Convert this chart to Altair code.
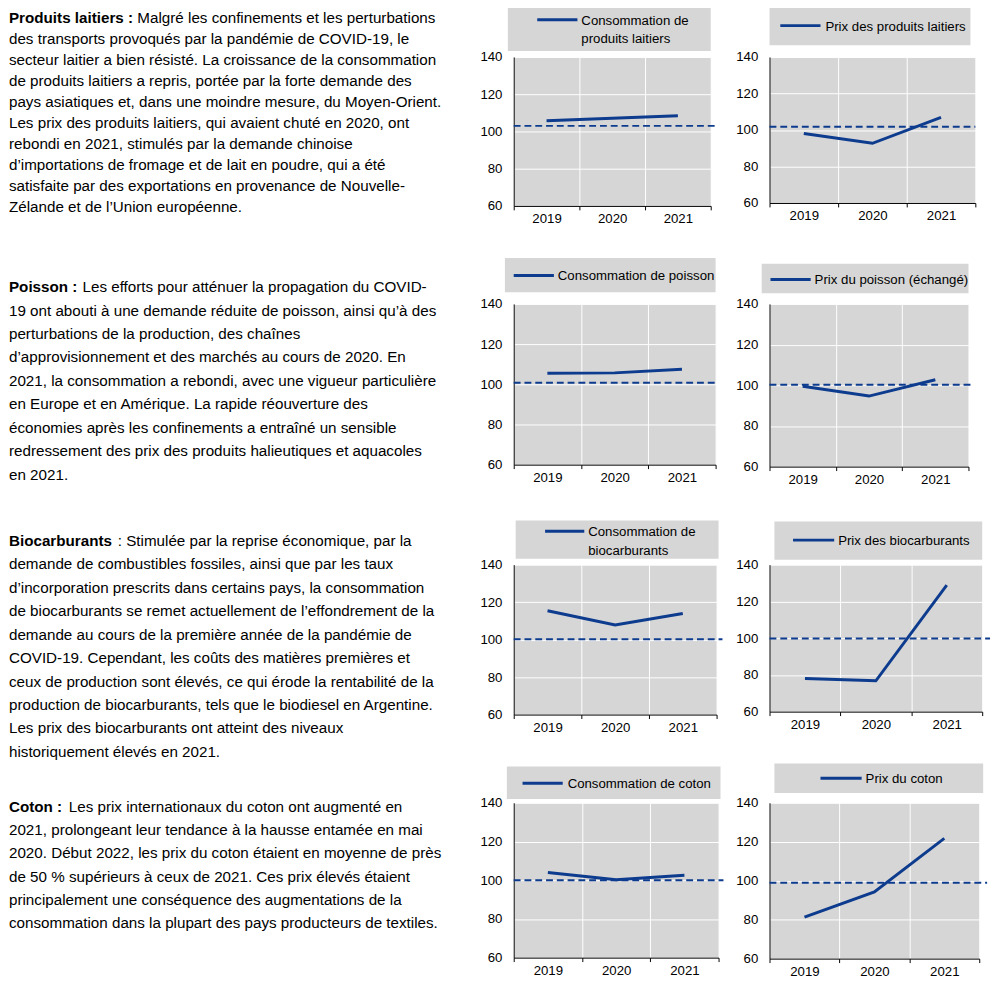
import altair as alt
import pandas as pd

# ---------------- data ----------------
years = ["2019", "2020", "2021"]
y_ticks = [60, 80, 100, 120, 140]

series_names = [
    "Consommation de\nproduits laitiers",
    "Prix des produits laitiers",
    "Consommation de poisson",
    "Prix du poisson (échangé)",
    "Consommation de\nbiocarburants",
    "Prix des biocarburants",
    "Consommation de coton",
    "Prix du coton",
]

dairy_consumption = [105.7, 107.1, 108.4]
dairy_price = [98.1, 92.7, 106.9]
fish_consumption = [105.5, 105.7, 107.5]
fish_price = [99.5, 94.7, 102.7]
biofuel_consumption = [115.4, 107.8, 113.9]
biofuel_price = [78.0, 76.8, 128.9]
cotton_consumption = [104.0, 100.3, 102.6]
cotton_price = [81.3, 94.3, 121.7]

series_values = [
    dairy_consumption, dairy_price,
    fish_consumption, fish_price,
    biofuel_consumption, biofuel_price,
    cotton_consumption, cotton_price,
]

reference_levels = [103.0, 101.8, 100.8, 100.3, 100.2, 99.8, 100.0, 99.0]

lead_words = ["Produits laitiers  :", "Poisson  :", "Biocarburants", "Coton  :"]
first_line_rest = [
    "Malgré les confinements et les perturbations",
    "Les efforts pour atténuer la propagation du COVID-",
    ": Stimulée par la reprise économique, par la",
    "Les prix internationaux du coton ont augmenté en",
]
paragraph_lines = [
    [
        "des transports provoqués par la pandémie de COVID-19, le",
        "secteur laitier a bien résisté. La croissance de la consommation",
        "de produits laitiers a repris, portée par la forte demande des",
        "pays asiatiques et, dans une moindre mesure, du Moyen-Orient.",
        "Les prix des produits laitiers, qui avaient chuté en 2020, ont",
        "rebondi en 2021, stimulés par la demande chinoise",
        "d’importations de fromage et de lait en poudre, qui a été",
        "satisfaite par des exportations en provenance de Nouvelle-",
        "Zélande et de l’Union européenne.",
    ],
    [
        "19 ont abouti à une demande réduite de poisson, ainsi qu’à des",
        "perturbations de la production, des chaînes",
        "d’approvisionnement et des marchés au cours de 2020. En",
        "2021, la consommation a rebondi, avec une vigueur particulière",
        "en Europe et en Amérique. La rapide réouverture des",
        "économies après les confinements a entraîné un sensible",
        "redressement des prix des produits halieutiques et aquacoles",
        "en 2021.",
    ],
    [
        "demande de combustibles fossiles, ainsi que par les taux",
        "d’incorporation prescrits dans certains pays, la consommation",
        "de biocarburants se remet actuellement de l’effondrement de la",
        "demande au cours de la première année de la pandémie de",
        "COVID-19. Cependant, les coûts des matières premières et",
        "ceux de production sont élevés, ce qui érode la rentabilité de la",
        "production de biocarburants, tels que le biodiesel en Argentine.",
        "Les prix des biocarburants ont atteint des niveaux",
        "historiquement élevés en 2021.",
    ],
    [
        "2021, prolongeant leur tendance à la hausse entamée en mai",
        "2020. Début 2022, les prix du coton étaient en moyenne de près",
        "de 50 % supérieurs à ceux de 2021. Ces prix élevés étaient",
        "principalement une conséquence des augmentations de la",
        "consommation dans la plupart des pays producteurs de textiles.",
    ],
]

# ---------------- layout / style ----------------
FONT = "Liberation Sans"
BLUE = "#0d3b8e"
GRAY = "#d6d6d6"
BLACK = "#000000"

TEXT_W = 463
COL_GAP = 52
ROW_GAP = 70
TOP_PAD = -14
ROWS = [
    dict(text_h=182, first_y=-40, lh=21.5, lead_dx=131),
    dict(text_h=196, first_y=-17, lh=23.9, lead_dx=75),
    dict(text_h=173, first_y=-24, lh=23.9, lead_dx=111),
    dict(text_h=159, first_y=4, lh=23.8, lead_dx=61),
]

PANELS = [
    dict(w=201, h=152, box=(-6, 201, -53, -6), sym=(24, 65, -38), lab=(69, -44), ext=5),
    dict(w=210, h=149, box=(0, 205, -53, -12), sym=(11, 52, -32), lab=(57, -38), ext=0),
    dict(w=206, h=164, box=(-9, 206, -47, -12), sym=(0, 41, -29), lab=(45, -35), ext=0),
    dict(w=203, h=166, box=(-8, 203, -41, -11), sym=(1, 42, -25), lab=(46, -31), ext=3),
    dict(w=207, h=153, box=(2, 209, -45, -6), sym=(32, 72, -34), lab=(76, -40), ext=6),
    dict(w=217, h=150, box=(5, 217, -44, -5), sym=(24, 66, -25), lab=(70, -31), ext=8),
    dict(w=209, h=158, box=(-7, 211, -37, -4), sym=(9, 50, -20), lab=(55, -26), ext=5),
    dict(w=214, h=159, box=(5, 218, -40, -10), sym=(52, 94, -25), lab=(98, -31), ext=8),
]
LEGEND_LINE_H = 19


def panel(k):
    P = PANELS[k]
    df = pd.DataFrame({"year": years, "value": series_values[k]})
    xs = alt.Scale(type="band", domain=years, paddingInner=0, paddingOuter=0)
    ys = alt.Scale(domain=[60, 140], nice=False, zero=False)
    xax = alt.Axis(
        title=None, tickBand="extent", grid=True, gridColor="#ffffff", gridWidth=1,
        gridOpacity=1, ticks=True, tickColor=BLACK, tickSize=4, tickWidth=1,
        domain=True, domainColor=BLACK, domainWidth=1, labelAngle=0,
        labelPadding=2, labelFontSize=13.5, labelColor=BLACK, labelFont=FONT,
    )
    yax = alt.Axis(
        title=None, values=y_ticks, grid=True, gridColor="#ffffff", gridWidth=1,
        gridOpacity=1, ticks=False, domain=True, domainColor=BLACK, domainWidth=1,
        labelPadding=12, labelFontSize=13.5, labelColor=BLACK, labelFont=FONT,
    )
    ref = alt.Chart(pd.DataFrame({"level": [reference_levels[k]]})).mark_rule(
        color=BLUE, strokeWidth=2, strokeDash=[7, 4]
    ).encode(
        y=alt.Y("level:Q", scale=ys, axis=yax),
        x=alt.value(0),
        x2=alt.value(P["w"] + P["ext"]),
    )
    line = alt.Chart(df).mark_line(color=BLUE, strokeWidth=3).encode(
        x=alt.X("year:O", scale=xs, axis=xax, bandPosition=0.5, sort=years),
        y=alt.Y("value:Q", scale=ys, axis=yax),
    )
    leg = pd.DataFrame({"name": [series_names[k]]})
    b0, b1, b2, b3 = P["box"]
    box = alt.Chart(leg).mark_rect(color=GRAY).encode(
        x=alt.value(b0), x2=alt.value(b1), y=alt.value(b2), y2=alt.value(b3)
    )
    s0, s1, sy = P["sym"]
    sym = alt.Chart(leg).mark_rule(color=BLUE, strokeWidth=3).encode(
        x=alt.value(s0), x2=alt.value(s1), y=alt.value(sy)
    )
    tx, ty = P["lab"]
    layers = [ref, line, box, sym]
    for j, part in enumerate(series_names[k].split("\n")):
        layers.append(
            alt.Chart(pd.DataFrame({"name": [part]})).mark_text(
                align="left", baseline="top", fontSize=13.5, font=FONT, color=BLACK,
            ).encode(text="name:N", x=alt.value(tx), y=alt.value(ty + j * LEGEND_LINE_H))
        )
    return alt.layer(*layers).properties(
        width=P["w"], height=P["h"],
        view=alt.ViewBackground(fill=GRAY, stroke="transparent"),
    )


def text_block(r):
    R = ROWS[r]
    lines = paragraph_lines[r]
    ys = alt.Scale(domain=[0, 10], range=[R["first_y"], R["first_y"] + 10 * R["lh"]])
    common = dict(align="left", baseline="middle", font=FONT, fontSize=15.5, color=BLACK)
    yenc = alt.Y("i:Q", scale=ys, axis=None)
    lead = alt.Chart(pd.DataFrame({"i": [0], "t": [lead_words[r]]})).mark_text(
        fontWeight="bold", **common
    ).encode(x=alt.value(0), y=yenc, text="t:N")
    rest0 = alt.Chart(pd.DataFrame({"i": [0], "t": [first_line_rest[r]]})).mark_text(
        **common
    ).encode(x=alt.value(R["lead_dx"]), y=yenc, text="t:N")
    body = alt.Chart(pd.DataFrame({"i": list(range(1, len(lines) + 1)), "t": lines})).mark_text(
        **common
    ).encode(x=alt.value(0), y=yenc, text="t:N")
    return alt.layer(lead, rest0, body).properties(
        width=TEXT_W, height=R["text_h"],
        view=alt.ViewBackground(fill="transparent", stroke="transparent"),
    )


cells = []
for r in range(4):
    cells += [text_block(r), panel(2 * r), panel(2 * r + 1)]

chart = alt.concat(
    *cells, columns=3, spacing={"row": ROW_GAP, "column": COL_GAP}, bounds="flush"
).properties(
    padding={"left": 0, "top": TOP_PAD, "right": 0, "bottom": 0}
).configure_view(stroke="transparent").configure(font=FONT)

chart.save("out.html", embed_options={"renderer": "svg", "actions": False})
